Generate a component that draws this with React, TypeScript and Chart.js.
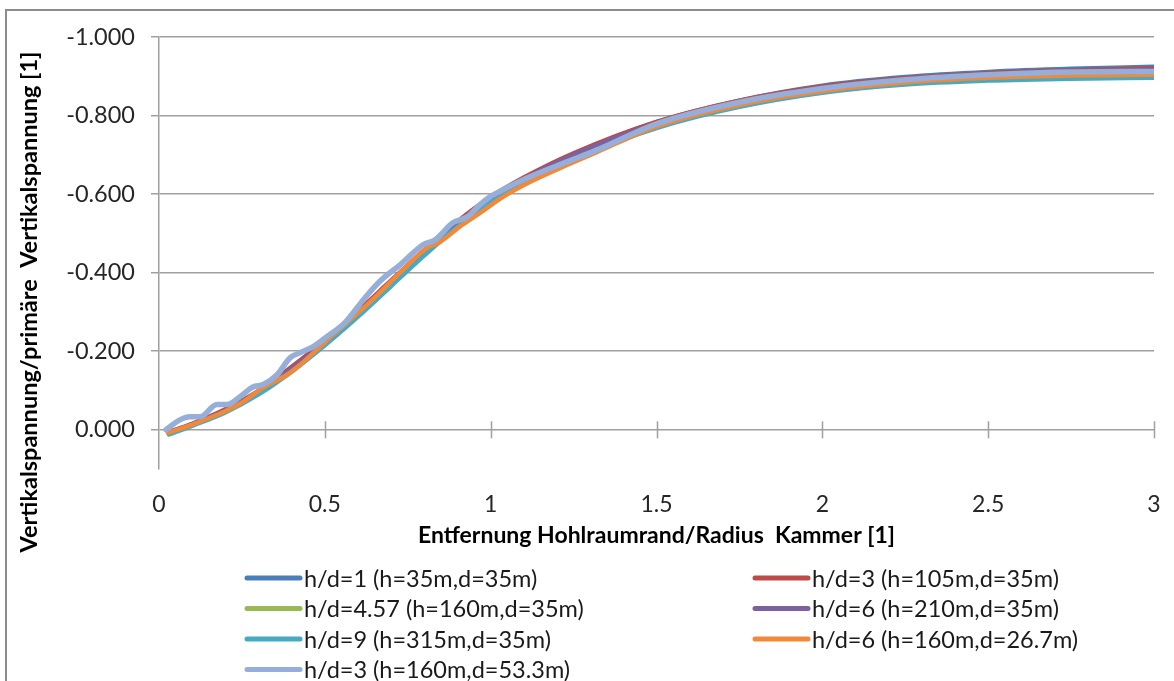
import React, { useEffect, useRef } from "react";
import { Chart, registerables } from "chart.js";

Chart.register(...registerables);

// ---------- data ----------
const seriesLabels = [
  "h/d=1 (h=35m,d=35m)",
  "h/d=3 (h=105m,d=35m)",
  "h/d=4.57 (h=160m,d=35m)",
  "h/d=6 (h=210m,d=35m)",
  "h/d=9 (h=315m,d=35m)",
  "h/d=6 (h=160m,d=26.7m)",
  "h/d=3 (h=160m,d=53.3m)",
];

const seriesColors = [
  "#4A7EBB",
  "#BE4B48",
  "#98B954",
  "#7D60A0",
  "#46AAC5",
  "#F08A3A",
  "#95AEDA",
];

const xCommon = [0.03, 0.1, 0.2, 0.3, 0.4, 0.5, 0.6, 0.7, 0.8, 0.9, 1.0, 1.1, 1.25, 1.5, 1.75, 2.0, 2.25, 2.5, 2.75, 3.0];

const yHd1 = [0.006, -0.014, -0.05, -0.097, -0.158, -0.226, -0.3, -0.378, -0.455, -0.528, -0.59, -0.64, -0.702, -0.783, -0.838, -0.876, -0.898, -0.911, -0.919, -0.924];
const yHd3 = [0.006, -0.015, -0.052, -0.099, -0.16, -0.228, -0.302, -0.38, -0.457, -0.53, -0.592, -0.642, -0.704, -0.784, -0.838, -0.874, -0.895, -0.908, -0.915, -0.92];
const yHd457 = [0.008, -0.012, -0.047, -0.093, -0.152, -0.219, -0.293, -0.372, -0.45, -0.523, -0.585, -0.636, -0.698, -0.778, -0.832, -0.868, -0.889, -0.902, -0.909, -0.913];
const yHd6 = [0.007, -0.013, -0.049, -0.095, -0.155, -0.223, -0.297, -0.375, -0.453, -0.526, -0.588, -0.638, -0.7, -0.78, -0.834, -0.871, -0.892, -0.905, -0.912, -0.916];
const yHd9 = [0.012, -0.01, -0.044, -0.09, -0.148, -0.215, -0.288, -0.366, -0.444, -0.517, -0.578, -0.628, -0.689, -0.768, -0.822, -0.858, -0.879, -0.889, -0.894, -0.896];

const xHd6b = [0.027, 0.1, 0.175, 0.244, 0.314, 0.386, 0.425, 0.476, 0.525, 0.627, 0.727, 0.808, 0.847, 0.907, 0.968, 1.037, 1.118, 1.23, 1.32, 1.5, 1.75, 2.0, 2.25, 2.5, 2.75, 3.0];
const yHd6b = [0.008, -0.013, -0.038, -0.066, -0.107, -0.14, -0.165, -0.204, -0.242, -0.318, -0.4, -0.463, -0.478, -0.517, -0.552, -0.593, -0.631, -0.674, -0.707, -0.772, -0.827, -0.862, -0.884, -0.896, -0.902, -0.904];

const xHd3b = [0.021, 0.063, 0.093, 0.124, 0.175, 0.205, 0.244, 0.283, 0.314, 0.356, 0.395, 0.425, 0.464, 0.506, 0.56, 0.62, 0.666, 0.727, 0.796, 0.832, 0.886, 0.929, 0.968, 0.998, 1.037, 1.118, 1.23, 1.32, 1.5, 1.75, 2.0, 2.25, 2.5, 2.75, 3.0];
const yHd3b = [0.0, -0.025, -0.033, -0.033, -0.064, -0.064, -0.084, -0.109, -0.115, -0.14, -0.183, -0.196, -0.211, -0.237, -0.272, -0.335, -0.378, -0.42, -0.471, -0.483, -0.527, -0.542, -0.573, -0.593, -0.611, -0.644, -0.682, -0.712, -0.779, -0.834, -0.869, -0.891, -0.904, -0.911, -0.912];

const xAxisMin = 0;
const xAxisMax = 3;
const xAxisStep = 0.5;
const yAxisMin = -1;
const yAxisMax = 0.1;
const yAxisStep = 0.2;

const xTitle = "Entfernung Hohlraumrand/Radius  Kammer [1]";
const yTitle = "Vertikalspannung/primäre  Vertikalspannung [1]";

// ---------- styles ----------
const FONT = "Lato, 'Noto Sans', sans-serif";
const GRID = "#a0a0a0";
const TEXT = "#262626";

export default function App() {
  const ref = useRef<HTMLCanvasElement>(null);

  useEffect(() => {
    if (!ref.current) return;
    const series: [number[], number[]][] = [
      [xCommon, yHd1],
      [xCommon, yHd3],
      [xCommon, yHd457],
      [xCommon, yHd6],
      [xCommon, yHd9],
      [xHd6b, yHd6b],
      [xHd3b, yHd3b],
    ];
    const n = series.length;
    const datasets = series.map(([xs, ys], i) => ({
      label: seriesLabels[i],
      data: xs.map((x, k) => ({ x, y: ys[k] })),
      borderColor: seriesColors[i],
      backgroundColor: seriesColors[i],
      borderWidth: i === n - 1 ? 5.5 : 4.5,
      pointRadius: 0,
      pointHoverRadius: 0,
      fill: false,
      cubicInterpolationMode: "monotone" as const,
      borderCapStyle: "round" as const,
      borderJoinStyle: "round" as const,
      order: n - 1 - i,
    }));

    const framePlugin = {
      id: "frame",
      beforeDraw(chart: any) {
        const { ctx } = chart;
        ctx.save();
        ctx.fillStyle = "#ffffff";
        ctx.fillRect(0, 0, chart.width, chart.height);
        ctx.strokeStyle = "#8c8c8c";
        ctx.lineWidth = 2;
        ctx.strokeRect(6, 10, chart.width + 40, chart.height + 40);
        ctx.restore();
      },
    };

    const crossTicks = {
      id: "crossTicks",
      beforeDatasetsDraw(chart: any) {
        const { ctx } = chart;
        const xs = chart.scales.x;
        const ysc = chart.scales.y;
        const y0 = ysc.getPixelForValue(0);
        ctx.save();
        ctx.strokeStyle = GRID;
        ctx.lineWidth = 1.5;
        ctx.beginPath();
        for (const t of xs.ticks) {
          if (t.value <= xAxisMin) continue;
          const px = Math.round(xs.getPixelForValue(t.value)) + 0.5;
          ctx.moveTo(px, y0 - 8.5);
          ctx.lineTo(px, y0 + 8.5);
        }
        ctx.stroke();
        ctx.restore();
      },
    };

    const yTitlePlugin = {
      id: "yTitleCustom",
      afterDraw(chart: any) {
        const { ctx } = chart;
        ctx.save();
        ctx.translate(29, 302);
        ctx.rotate(-Math.PI / 2);
        ctx.font = `bold 23.5px ${FONT}`;
        ctx.fillStyle = "#000000";
        ctx.textAlign = "center";
        ctx.textBaseline = "middle";
        ctx.fillText(yTitle, 0, 0);
        ctx.restore();
      },
    };

    const legendPlugin = {
      id: "legendCustom",
      afterDraw(chart: any) {
        const { ctx } = chart;
        const cols = [247, 755];
        const rowTop = 578;
        const rowGap = 30.5;
        const lineLen = 53;
        ctx.save();
        ctx.font = `23.5px ${FONT}`;
        ctx.textBaseline = "middle";
        ctx.textAlign = "left";
        chart.data.datasets.forEach((ds: any, i: number) => {
          const c = i % 2;
          const r = Math.floor(i / 2);
          const x0 = cols[c];
          const y = rowTop + r * rowGap;
          ctx.strokeStyle = ds.borderColor;
          ctx.lineWidth = 5;
          ctx.lineCap = "round";
          ctx.beginPath();
          ctx.moveTo(x0, y);
          ctx.lineTo(x0 + lineLen, y);
          ctx.stroke();
          ctx.fillStyle = "#1a1a1a";
          ctx.fillText(ds.label, x0 + lineLen + 4, y + 1);
        });
        ctx.restore();
      },
    };

    const chart = new Chart(ref.current, {
      type: "line",
      data: { datasets },
      options: {
        animation: false,
        responsive: false,
        maintainAspectRatio: false,
        layout: { padding: { left: 0, right: 20, top: 37, bottom: 0 } },
        plugins: {
          legend: { display: false },
          tooltip: { enabled: false },
        },
        events: [],
        scales: {
          x: {
            type: "linear",
            min: xAxisMin,
            max: xAxisMax,
            afterFit: (s: any) => {
              s.height = 212;
              s.paddingLeft = 0;
              s.paddingRight = 0;
            },
            ticks: {
              stepSize: xAxisStep,
              font: { family: FONT, size: 23 },
              color: TEXT,
              padding: 22,
              maxRotation: 0,
              callback: (v: any) => String(Math.round(Number(v) * 100) / 100),
            },
            grid: { display: false, drawTicks: false },
            border: { display: false },
            title: {
              display: true,
              text: xTitle,
              font: { family: FONT, size: 23, weight: "bold" },
              color: "#000000",
              padding: { top: 0, bottom: 132 },
            },
          },
          y: {
            type: "linear",
            min: yAxisMin,
            max: yAxisMax,
            reverse: true,
            afterFit: (s: any) => {
              s.width = 159;
              s.paddingTop = 0;
              s.paddingBottom = 0;
            },
            ticks: {
              stepSize: yAxisStep,
              includeBounds: false,
              font: { family: FONT, size: 23.5 },
              color: TEXT,
              padding: 16,
              callback: (v: any) => {
                const num = Number(v);
                return Math.abs(num) < 1e-9 ? "0.000" : num.toFixed(3);
              },
            },
            grid: {
              color: GRID,
              lineWidth: 1.5,
              tickLength: 8,
              drawTicks: true,
            },
            border: { display: true, color: GRID, width: 1.5 },
          },
        },
      },
      plugins: [framePlugin, crossTicks, yTitlePlugin, legendPlugin],
    } as any);

    return () => chart.destroy();
  }, []);

  return (
    <div style={{ position: "absolute", left: 0, top: 0, width: 1174, height: 681 }}>
      <canvas ref={ref} width={1174} height={681} style={{ width: 1174, height: 681, display: "block" }} />
    </div>
  );
}
